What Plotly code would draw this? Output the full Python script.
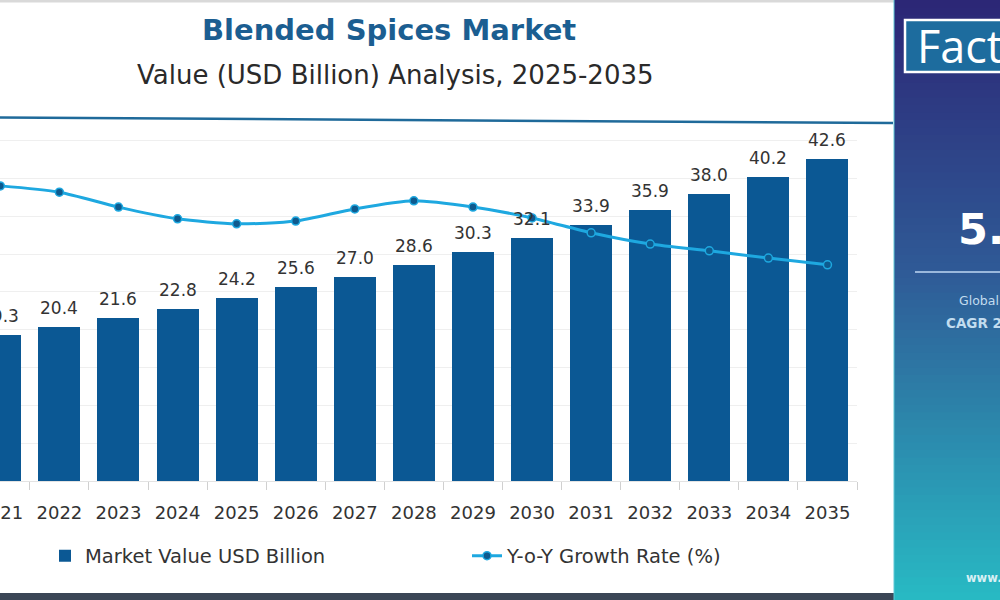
import plotly.graph_objects as go

# ---------------- data ----------------
years = list(range(2021, 2036))
tick_labels = [str(y) for y in years]
market_value = [19.3, 20.4, 21.6, 22.8, 24.2, 25.6, 27.0, 28.6, 30.3, 32.1, 33.9, 35.9, 38.0, 40.2, 42.6]
yoy_growth = [6.54, 6.40, 6.07, 5.81, 5.70, 5.76, 6.03, 6.21, 6.07, 5.83, 5.50, 5.25, 5.10, 4.94, 4.79]

title_text = "Blended Spices Market"
subtitle_text = "Value (USD Billion) Analysis, 2025-2035"
bar_name = "Market Value USD Billion"
line_name = "Y-o-Y Growth Rate (%)"

# ---------------- geometry helpers (pixel -> paper) ----------------
W, H = 1000, 600
PL, PR, PT, PB = 0, 857, 120, 481


def px(x):
    return (x - PL) / (PR - PL)


def py(y):
    return (PB - y) / (PB - PT)


FONT = "DejaVu Sans"
PANEL_FONT = "Open Sans"
BAR_COLOR = "#0b5894"
LINE_COLOR = "#1ea8e0"

fig = go.Figure()

fig.add_trace(go.Bar(
    x=years, y=market_value, name=bar_name,
    marker=dict(color=BAR_COLOR, line=dict(width=0)),
    width=0.71, yaxis="y",
))

fig.add_trace(go.Scatter(
    x=years, y=yoy_growth, name=line_name, yaxis="y2",
    mode="lines+markers",
    line=dict(color=LINE_COLOR, width=3, shape="spline", smoothing=0.7),
    marker=dict(color="#0e5a8e", size=8, line=dict(color=LINE_COLOR, width=1.5)),
))

annotations = []
# value labels above bars
for yr, v in zip(years, market_value):
    annotations.append(dict(
        x=yr, y=v, xref="x", yref="y", text=f"{v:.1f}", showarrow=False,
        yanchor="bottom", yshift=7, font=dict(family=FONT, size=17, color="#333333"),
    ))

# titles
annotations.append(dict(x=px(389), y=py(30), xref="paper", yref="paper", text=f"<b>{title_text}</b>",
                        showarrow=False, xanchor="center", yanchor="middle",
                        font=dict(family=FONT, size=29, color="#1b5e91")))
annotations.append(dict(x=px(395), y=py(75), xref="paper", yref="paper", text=subtitle_text,
                        showarrow=False, xanchor="center", yanchor="middle",
                        font=dict(family=FONT, size=26, color="#2a2a2a")))

shapes = []
# top gray strip and bottom dark strip
shapes.append(dict(type="rect", xref="paper", yref="paper", x0=px(0), x1=px(894), y0=py(0), y1=py(2.5),
                   fillcolor="#d9d9d9", line=dict(width=0), layer="above"))
shapes.append(dict(type="rect", xref="paper", yref="paper", x0=px(0), x1=px(894), y0=py(593), y1=py(600),
                   fillcolor="#3b4656", line=dict(width=0), layer="above"))
# dark line under the title
shapes.append(dict(type="line", xref="paper", yref="paper", x0=px(0), x1=px(893), y0=py(117.5), y1=py(123),
                   line=dict(color="#1f6a9a", width=2.5), layer="above"))

# right gradient panel
def lerp(c1, c2, t):
    return tuple(round(a + (b - a) * t) for a, b in zip(c1, c2))

stops = [(0.0, (44, 38, 118)), (0.45, (47, 90, 150)), (1.0, (40, 186, 196))]
N = 80
for i in range(N):
    t = (i + 0.5) / N
    for (t0, c0), (t1, c1) in zip(stops[:-1], stops[1:]):
        if t0 <= t <= t1:
            c = lerp(c0, c1, (t - t0) / (t1 - t0))
            break
    y0 = H * i / N
    y1 = H * (i + 1) / N + 0.6
    shapes.append(dict(type="rect", xref="paper", yref="paper", x0=px(894), x1=px(1001),
                       y0=py(y1), y1=py(y0), fillcolor=f"rgb{c}", line=dict(width=0), layer="above"))
# thin teal edge
shapes.append(dict(type="line", xref="paper", yref="paper", x0=px(894), x1=px(894), y0=py(0), y1=py(600),
                   line=dict(color="#5fc9d6", width=1), layer="above"))
# logo box
shapes.append(dict(type="rect", xref="paper", yref="paper", x0=px(905), x1=px(1012), y0=py(72), y1=py(20),
                   fillcolor="#1d6c9e", line=dict(color="white", width=2.5), layer="above"))
# separator line in panel
shapes.append(dict(type="line", xref="paper", yref="paper", x0=px(915), x1=px(1005), y0=py(272), y1=py(272),
                   line=dict(color="#9ab8dc", width=2), layer="above"))

annotations.append(dict(x=px(915), y=py(46), xref="paper", yref="paper", text="FactMR", showarrow=False,
                        xanchor="left", yanchor="middle", font=dict(family=PANEL_FONT, size=45, color="white")))
annotations.append(dict(x=px(956), y=py(229), xref="paper", yref="paper", text="<b>5.6%</b>", showarrow=False,
                        xanchor="left", yanchor="middle", font=dict(family=FONT, size=43, color="white")))
annotations.append(dict(x=px(957), y=py(300), xref="paper", yref="paper", text="Global Market", showarrow=False,
                        xanchor="left", yanchor="middle", font=dict(family=FONT, size=12.5, color="#c2dcef")))
annotations.append(dict(x=px(944), y=py(323), xref="paper", yref="paper", text="<b>CAGR 2025-2035</b>",
                        showarrow=False, xanchor="left", yanchor="middle",
                        font=dict(family=FONT, size=13.5, color="#c2dcef")))
annotations.append(dict(x=px(964), y=py(578), xref="paper", yref="paper", text="<b>www.factmr.com</b>",
                        showarrow=False, xanchor="left", yanchor="middle",
                        font=dict(family=FONT, size=11.5, color="#d8f0f4")))

fig.update_layout(
    width=W, height=H,
    margin=dict(l=PL, r=W - PR, t=PT, b=H - PB, pad=0, autoexpand=False),
    paper_bgcolor="white", plot_bgcolor="white",
    font=dict(family=FONT, color="#333333"),
    bargap=0,
    xaxis=dict(
        range=[2020.995, 2035.5], tickmode="array", tickvals=years, ticktext=tick_labels,
        ticks="", showgrid=False, zeroline=False, showline=True, linecolor="#e3e3e3", linewidth=1,
        ticklabeloverflow="allow", tickfont=dict(family=FONT, size=18, color="#333333"),
        ticklabelstandoff=15,
        minor=dict(tickmode="array", tickvals=[y + 0.5 for y in years[:-1]] + [years[-1] + 0.5],
                   ticks="outside", ticklen=8, tickcolor="#d0d0d0", tickwidth=1, showgrid=False),
    ),
    yaxis=dict(range=[0, 47.75], dtick=5, showgrid=True, gridcolor="#efefef", gridwidth=1,
               showticklabels=False, zeroline=False, showline=False, ticks=""),
    yaxis2=dict(range=[0, 8], overlaying="y", visible=False),
    legend=dict(orientation="h", x=px(45), y=py(556), xanchor="left", yanchor="middle",
                font=dict(family=FONT, size=19.5, color="#333333"), entrywidth=377,
                bgcolor="rgba(0,0,0,0)", traceorder="normal"),
    annotations=annotations,
    shapes=shapes,
    showlegend=True,
)

fig.write_html("out.html")
